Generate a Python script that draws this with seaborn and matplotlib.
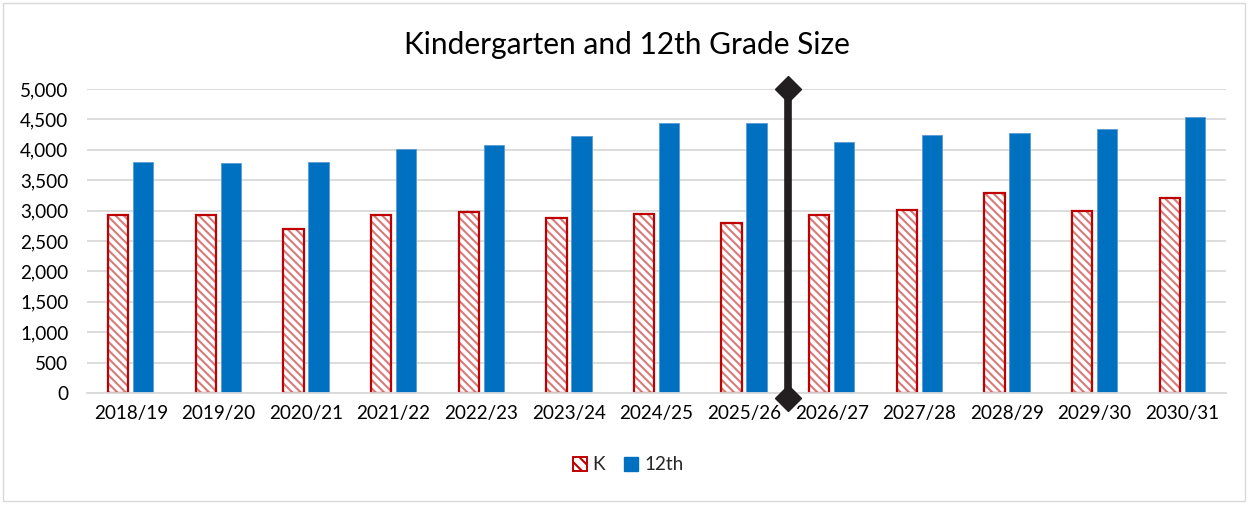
import matplotlib
matplotlib.use("Agg")
import matplotlib.pyplot as plt
import seaborn as sns
import pandas as pd
from matplotlib.patches import Rectangle

years = ["2018/19", "2019/20", "2020/21", "2021/22", "2022/23", "2023/24", "2024/25",
         "2025/26", "2026/27", "2027/28", "2028/29", "2029/30", "2030/31"]
k_values = [2930, 2930, 2700, 2925, 2985, 2880, 2940, 2800, 2935, 3010, 3285, 2995, 3200]
g12_values = [3805, 3775, 3805, 4005, 4085, 4220, 4445, 4440, 4130, 4245, 4280, 4340, 4535]
series = ["K", "12th"]
title = "Kindergarten and 12th Grade Size"
yticks = list(range(0, 5001, 500))

df = pd.DataFrame({
    "year": years * 2,
    "value": k_values + g12_values,
    "series": [series[0]] * len(years) + [series[1]] * len(years),
})

sns.set_theme(style="white")
plt.rcParams["font.family"] = ["Lato", "DejaVu Sans"]
plt.rcParams["hatch.linewidth"] = 1.5

HATCH = "\\\\\\\\"
HATCH_COLOR = "#D77A7A"
EDGE_RED = "#C00000"

W, H = 1249, 505
fig = plt.figure(figsize=(W / 100, H / 100), dpi=100)
ax = fig.add_axes([87 / W, (H - 393) / H, (1226 - 87) / W, (393 - 89) / H])

sns.barplot(data=df, x="year", y="value", hue="series", order=years, hue_order=series,
            palette=["white", "#0070C0"], width=0.572, gap=0.19, ax=ax, legend=False,
            saturation=1)

n = len(years)
k_patches = list(ax.patches[:n])
b_patches = list(ax.patches[n:2 * n])
for p in k_patches:
    p.set_facecolor("white")
    p.set_edgecolor(HATCH_COLOR)
    p.set_hatch(HATCH)
    p.set_linewidth(0)
    # outline on top, using the bar's own geometry
    ax.add_patch(Rectangle(p.get_xy(), p.get_width(), p.get_height(), fill=False,
                           edgecolor=EDGE_RED, linewidth=1.6, zorder=p.get_zorder() + 0.1))
for p in b_patches:
    p.set_facecolor("#0070C0")
    p.set_edgecolor("#5B9BD5")
    p.set_linewidth(0.6)

ax.set_ylim(0, 5000)
ax.set_xlim(-0.5, n - 0.5)
ax.set_yticks(yticks)
ax.set_yticklabels([f"{v:,}" for v in yticks], fontsize=13.6, color="#000000")
ax.tick_params(axis="y", length=0, pad=13.5)
ax.tick_params(axis="x", length=0, pad=9, labelsize=13.6, labelcolor="#000000")
ax.set_xlabel("")
ax.set_ylabel("")
ax.yaxis.grid(True, color="#D9D9D9", linewidth=1.3)
ax.set_axisbelow(True)
for s in ["top", "right", "left"]:
    ax.spines[s].set_visible(False)
ax.spines["bottom"].set_color("#D9D9D9")
ax.spines["bottom"].set_linewidth(1.3)

# divider between actual and projected
ax.plot([7.5, 7.5], [-82, 5000], color="#231F20", linewidth=5.5, clip_on=False,
        solid_capstyle="butt", zorder=5)
ax.plot([7.5, 7.5], [-82, 5000], linestyle="none", marker="D", markersize=13,
        color="#231F20", clip_on=False, zorder=6)

fig.text(627 / W, 1 - 45 / H, title, ha="center", va="center", fontsize=21.5, color="#000000")

# legend
handles = [Rectangle((0, 0), 1, 1, facecolor="white", edgecolor=EDGE_RED, hatch="\\\\\\", linewidth=1.4),
           Rectangle((0, 0), 1, 1, facecolor="#0070C0", edgecolor="#0070C0")]
fig.legend(handles, series, loc="center", bbox_to_anchor=(628 / W, 1 - 465 / H), ncol=2,
           frameon=False, fontsize=13.6, handlelength=0.75, handleheight=0.75,
           handletextpad=0.3, columnspacing=1.0)

# outer frame
fig.patches.append(Rectangle((3 / W, 4 / H), (W - 7) / W, (H - 7) / H, transform=fig.transFigure,
                             fill=False, edgecolor="#D9D9D9", linewidth=1.0))

fig.savefig("out.png", dpi=100, facecolor="white")
